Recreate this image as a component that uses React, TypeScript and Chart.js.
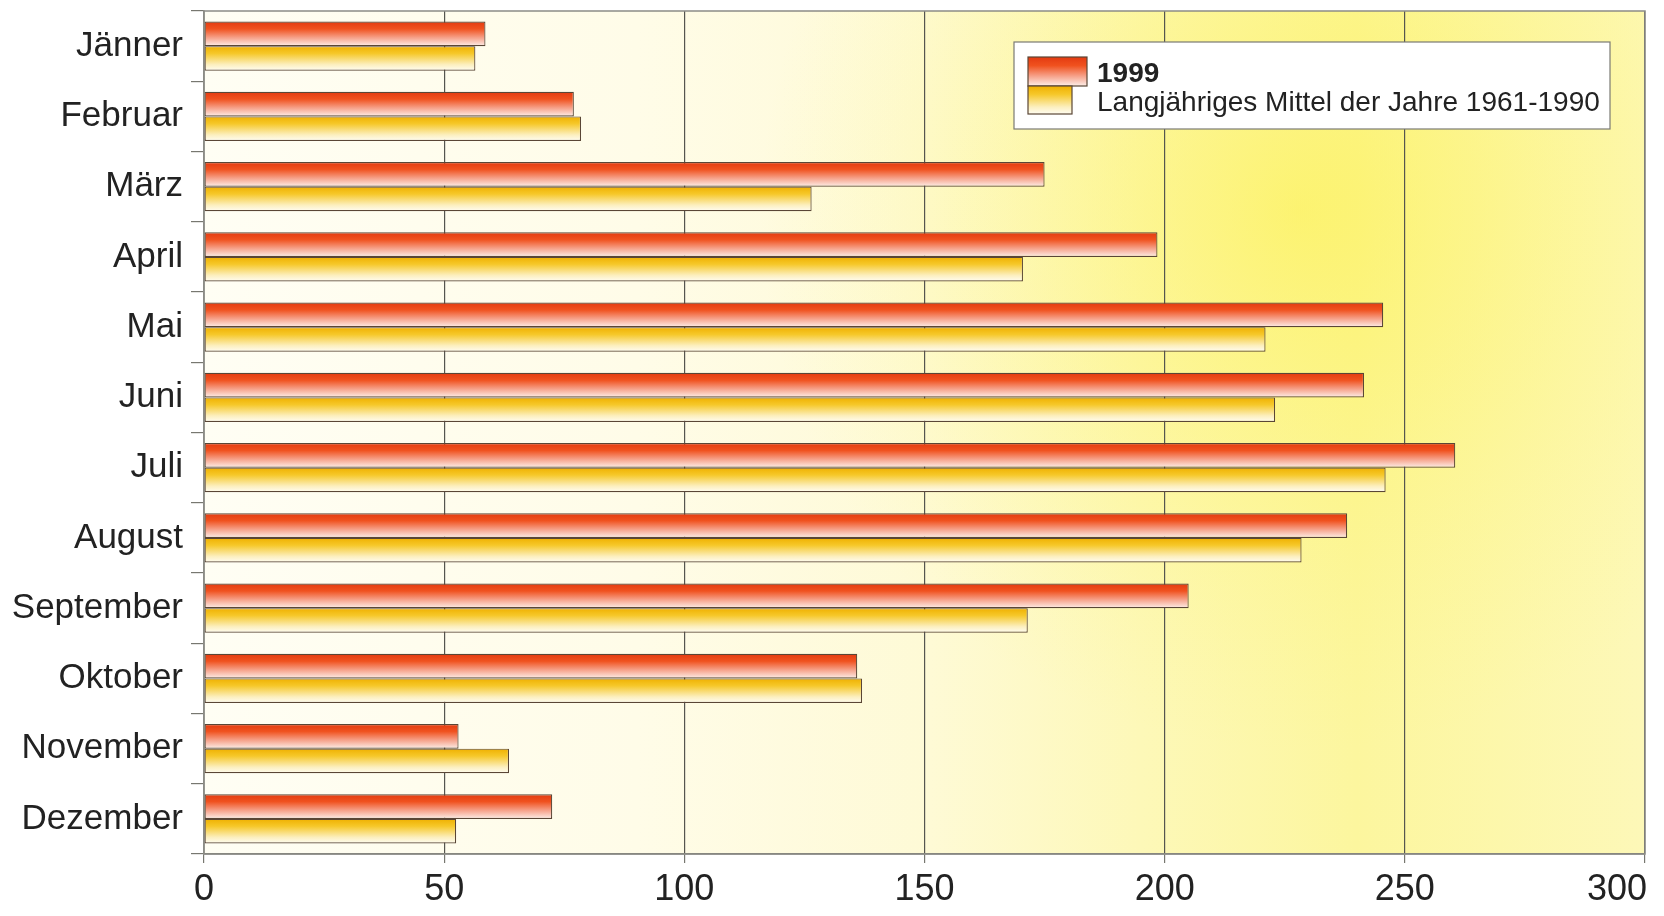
import React, { useEffect, useRef } from 'react';
import { Chart, registerables } from 'chart.js';

Chart.register(...registerables);

const months = ['Jänner', 'Februar', 'März', 'April', 'Mai', 'Juni', 'Juli', 'August', 'September', 'Oktober', 'November', 'Dezember'];
const sun1999 = [58.6, 77, 175, 198.5, 245.5, 241.5, 260.5, 238, 205, 136, 53, 72.5];
const sunMean = [56.5, 78.5, 126.5, 170.5, 221, 223, 246, 228.5, 171.5, 137, 63.5, 52.5];
const seriesLabels = ['1999', 'Langjähriges Mittel der Jahre 1961-1990'];
const xMin = 0;
const xMax = 300;
const xStep = 50;

const FONT = "'Liberation Sans', Arial, Helvetica, sans-serif";
const CAT_PCT = 0.7;

const redStops: [number, string][] = [
  [0, '#e33a10'],
  [0.3, '#f0521f'],
  [0.65, '#f6a088'],
  [1, '#fdeee8'],
];
const yellowStops: [number, string][] = [
  [0, '#efb000'],
  [0.3, '#f6c82a'],
  [0.75, '#fcefbe'],
  [1, '#fffdf2'],
];

const makeFill = (stops: [number, string][]) => (c: any) => {
  const chart = c.chart;
  const ys = chart.scales && chart.scales.y;
  if (!ys || c.dataIndex === undefined || !isFinite(ys.top) || !isFinite(ys.bottom)) return stops[1][1];
  const center = ys.getPixelForValue(c.dataIndex);
  if (!isFinite(center)) return stops[1][1];
  const band = (ys.bottom - ys.top) / months.length;
  const th = (band * CAT_PCT) / 2;
  const top = c.datasetIndex === 0 ? center - th : center;
  const g = chart.ctx.createLinearGradient(0, top, 0, top + th);
  stops.forEach(([o, col]) => g.addColorStop(o, col));
  return g;
};

const bgPlugin = {
  id: 'plotBg',
  beforeDraw(chart: any) {
    const { ctx, chartArea: a } = chart;
    if (!a) return;
    // keep the last x tick label inside the canvas (right-aligned to its grid line)
    const xs = chart.scales.x;
    if (xs) {
      const items = xs.getLabelItems(a);
      const last = items[items.length - 1];
      if (last && last.options && last.options.translation) {
        last.options.textAlign = 'right';
        last.options.translation[0] = a.right + 2;
      }
    }
    ctx.save();
    const g = ctx.createLinearGradient(a.left, 0, a.right, 0);
    g.addColorStop(0, '#fffef4');
    g.addColorStop(0.3, '#fffce8');
    g.addColorStop(0.5, '#fefad6');
    g.addColorStop(0.65, '#fdf8b8');
    g.addColorStop(0.8, '#fcf69e');
    g.addColorStop(1, '#fdf8b8');
    ctx.fillStyle = g;
    ctx.fillRect(a.left, a.top, a.right - a.left, a.bottom - a.top);
    const cx = a.left + (a.right - a.left) * 0.76;
    const cy = a.top + 200;
    const r = ctx.createRadialGradient(cx, cy, 0, cx, cy, 540);
    r.addColorStop(0, 'rgba(252,240,70,0.55)');
    r.addColorStop(0.5, 'rgba(252,242,90,0.25)');
    r.addColorStop(1, 'rgba(252,245,120,0)');
    ctx.fillStyle = r;
    ctx.fillRect(a.left, a.top, a.right - a.left, a.bottom - a.top);
    ctx.restore();
  },
  beforeDatasetsDraw(chart: any) {
    const { ctx, chartArea: a } = chart;
    ctx.save();
    ctx.strokeStyle = '#8c8c86';
    ctx.lineWidth = 1.5;
    ctx.strokeRect(a.left, a.top, a.right - a.left, a.bottom - a.top);
    ctx.restore();
  },
};

const legendPlugin = {
  id: 'boxLegend',
  afterDraw(chart: any) {
    const { ctx } = chart;
    const x0 = 1014, y0 = 42, w = 596, h = 87;
    ctx.save();
    ctx.fillStyle = '#ffffff';
    ctx.fillRect(x0, y0, w, h);
    ctx.strokeStyle = '#7a7a74';
    ctx.lineWidth = 1.2;
    ctx.strokeRect(x0, y0, w, h);
    const s1 = { x: 1028, y: 57, w: 59, h: 29 };
    let g = ctx.createLinearGradient(0, s1.y, 0, s1.y + s1.h);
    redStops.forEach(([o, c]) => g.addColorStop(o, c));
    ctx.fillStyle = g;
    ctx.fillRect(s1.x, s1.y, s1.w, s1.h);
    ctx.strokeStyle = '#5a4636';
    ctx.lineWidth = 1.2;
    ctx.strokeRect(s1.x, s1.y, s1.w, s1.h);
    const s2 = { x: 1028, y: 86, w: 44, h: 28 };
    g = ctx.createLinearGradient(0, s2.y, 0, s2.y + s2.h);
    yellowStops.forEach(([o, c]) => g.addColorStop(o, c));
    ctx.fillStyle = g;
    ctx.fillRect(s2.x, s2.y, s2.w, s2.h);
    ctx.strokeRect(s2.x, s2.y, s2.w, s2.h);
    ctx.fillStyle = '#222222';
    ctx.textBaseline = 'alphabetic';
    ctx.textAlign = 'left';
    const labels = chart.data.datasets.map((d: any) => d.label);
    ctx.font = `bold 28px ${FONT}`;
    ctx.fillText(labels[0], 1097, 82);
    ctx.font = `28px ${FONT}`;
    ctx.fillText(labels[1], 1097, 111);
    ctx.restore();
  },
};

export default function App() {
  const ref = useRef<HTMLCanvasElement>(null);
  useEffect(() => {
    if (!ref.current) return;
    const chart = new Chart(ref.current, {
      type: 'bar',
      data: {
        labels: months,
        datasets: [
          {
            label: seriesLabels[0],
            data: sun1999,
            backgroundColor: makeFill(redStops) as any,
            borderColor: '#5a4636',
            borderWidth: 1.2,
            borderSkipped: false,
            categoryPercentage: CAT_PCT,
            barPercentage: 1,
          },
          {
            label: seriesLabels[1],
            data: sunMean,
            backgroundColor: makeFill(yellowStops) as any,
            borderColor: '#5a4636',
            borderWidth: 1.2,
            borderSkipped: false,
            categoryPercentage: CAT_PCT,
            barPercentage: 1,
          },
        ],
      },
      options: {
        indexAxis: 'y',
        responsive: false,
        animation: false,
        layout: { padding: { top: 11, right: 19, left: 0, bottom: 0 } },
        plugins: {
          legend: { display: false },
          tooltip: { enabled: false },
        },
        scales: {
          x: {
            min: xMin,
            max: xMax,
            ticks: {
              stepSize: xStep,
              color: '#222222',
              font: { family: FONT, size: 36 },
              padding: 5,
            },
            grid: {
              color: '#55554f',
              lineWidth: 1.2,
              tickLength: 9,
              tickColor: '#777770',
            },
            border: { color: '#777770', width: 1.5 },
            afterFit: (s: any) => {
              s.height = 62;
              s.paddingLeft = 0;
              s.paddingRight = 0;
              s.paddingTop = 0;
              s.paddingBottom = 0;
            },
          },
          y: {
            ticks: {
              color: '#222222',
              font: { family: FONT, size: 35 },
              padding: 8,
            },
            grid: {
              drawOnChartArea: false,
              tickLength: 13,
              color: '#777770',
              lineWidth: 1.2,
            },
            border: { color: '#8c8c86', width: 1.5 },
            afterFit: (s: any) => {
              s.width = 204;
              s.paddingLeft = 0;
              s.paddingRight = 0;
              s.paddingTop = 0;
              s.paddingBottom = 0;
            },
          },
        },
      },
      plugins: [bgPlugin, legendPlugin],
    });
    return () => chart.destroy();
  }, []);
  return (
    <div style={{ position: 'fixed', left: 0, top: 0, width: 1664, height: 916, background: '#ffffff' }}>
      <canvas ref={ref} width={1664} height={916} style={{ display: 'block' }} />
    </div>
  );
}
